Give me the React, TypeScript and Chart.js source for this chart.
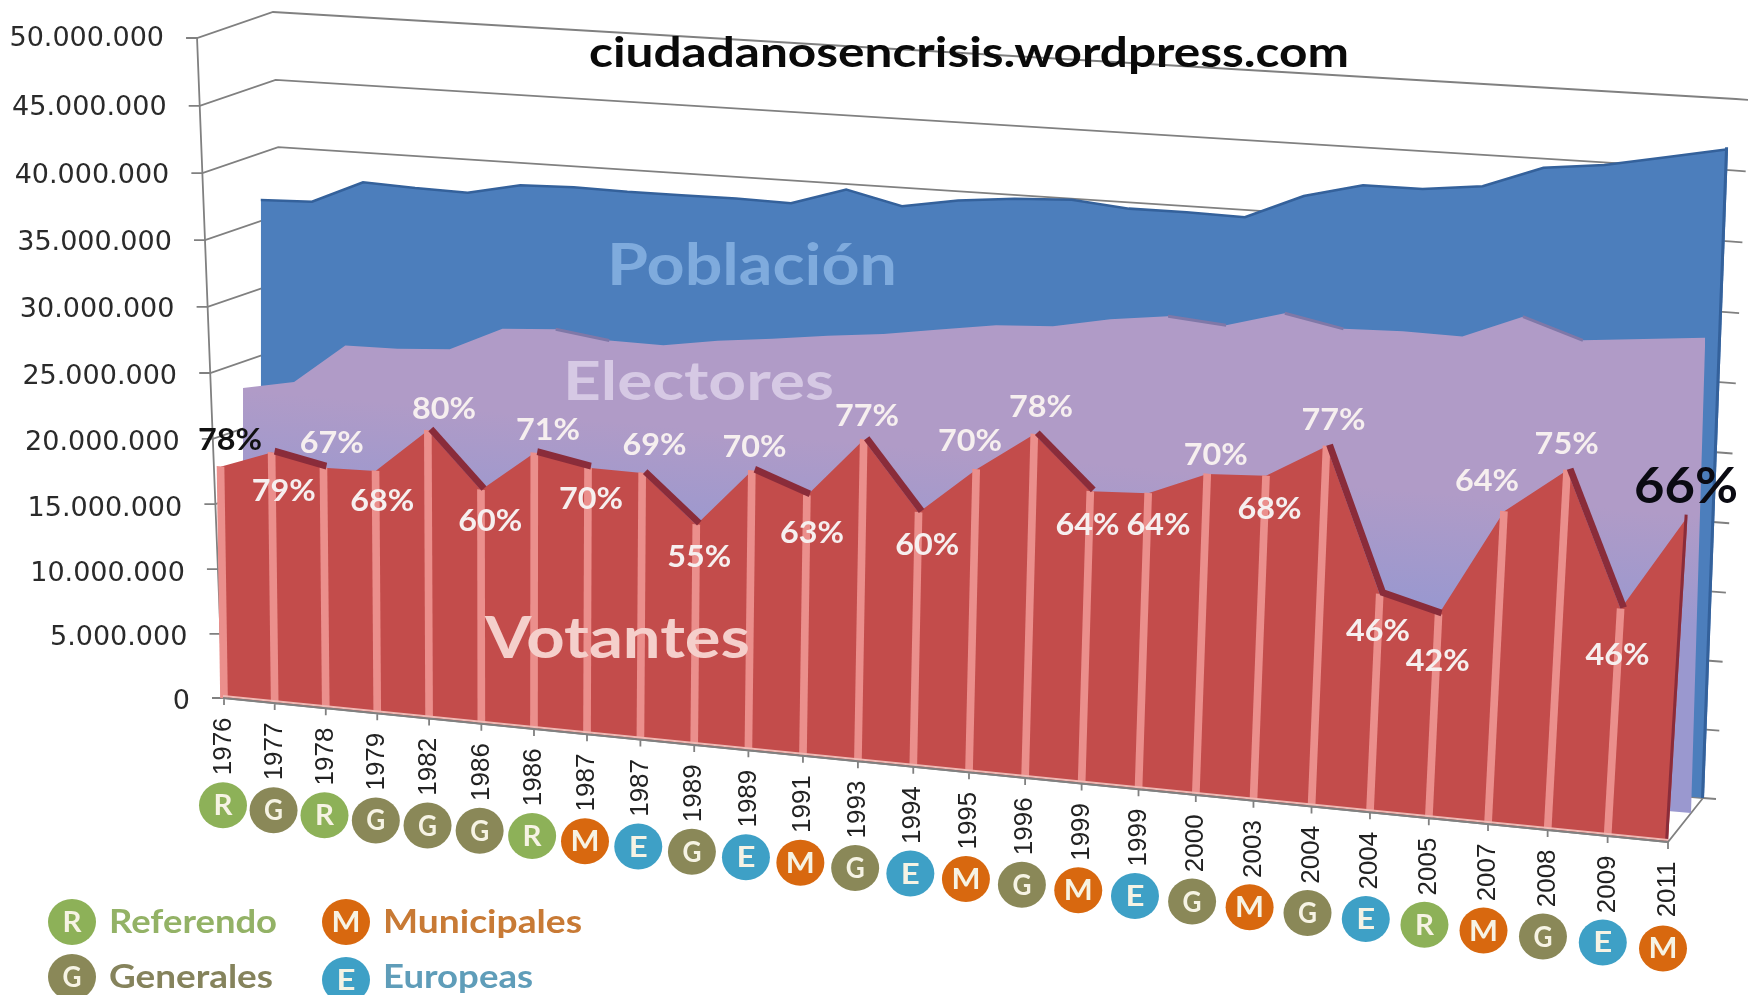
import React, { useEffect, useRef } from "react";
import { Chart, CategoryScale, registerables } from "chart.js";

const anios = ["1976","1977","1978","1979","1982","1986","1986","1987","1987","1989","1989","1991","1993","1994","1995","1996","1999","1999","2000","2003","2004","2004","2005","2007","2008","2009","2011"];
const tipos = ["R","G","R","G","G","G","R","M","E","G","E","M","G","E","M","G","M","E","G","M","G","E","R","M","G","E","M"];
const porcentajes = [78,79,67,68,80,60,71,70,69,55,70,63,77,60,70,78,64,64,70,68,77,46,42,64,75,46,66];
const votantes = [17.5,18.95,18.2,18.35,21.8,17.7,20.9,20.2,20.2,16.7,21.2,19.75,24.4,19.3,23.0,26.1,22.2,22.5,24.4,24.7,27.4,16.6,15.5,23.8,27.4,17.3,24.8].map((v) => v * 1e6);
const electores = [22.7,23.5,26.6,26.7,27.0,28.9,29.2,28.7,28.7,29.4,29.9,30.5,31.0,31.7,32.4,32.7,33.6,34.2,33.9,35.2,34.4,34.6,34.6,36.5,35.1,35.6,36.1].map((v) => v * 1e6);
const poblacion = [35.9,36.1,37.9,37.8,37.8,38.7,38.9,38.9,39.0,39.1,39.1,40.5,39.6,40.4,40.9,41.2,40.9,41.0,41.0,43.0,44.2,44.3,44.9,46.7,47.3,48.3,49.3].map((v) => v * 1e6);
// where each percentage sits relative to its Votantes point
const pctDx = [6,9,6,5,15,9,14,4,14,5,6,9,9,14,1,16,6,20,20,16,22,8,9,-1,19,10,18];
const pctDy = [-28,37,-26,29,-23,30,-24,30,-29,32,-24,37,-24,32,-29,-27,34,32,-19,33,-26,37,46,-30,-25,46,-30];

const L = 224, R = 1668, B = 698, T = 38;
const WARP = 0.0907;
// each depth layer: where its floor line runs on screen, how verticals lean from left (l0) to right (l1)
const layers: any = {
  back: { xs: 275, ys: 675, xe: 1704, ye: 798, l0: -0.03, l1: 0.037 },
  mid: { xs: 246, ys: 688, xe: 1691, ye: 813, l0: -0.01, l1: 0.03 },
  front: { xs: 224, ys: 698, xe: 1668, ye: 842, l0: -0.015, l1: 0.06 },
  ridge: { xs: 224, ys: 698, xe: 1668, ye: 842, l0: -0.015, l1: 0.06, dx: 3, dy: -1.5 },
};
const FRONT_K = (842 - 698) / (R - L);
const badgeColors: any = { R: "#8DB158", G: "#8A8858", M: "#D8680F", E: "#3EA0C6" };
const FONT = "Lato, 'Open Sans', sans-serif";
const leanAt = (l: any, t: number) => l.l0 + (l.l1 - l.l0) * t;
// the value axis bows slightly in the perspective of the drawing
const axisBow = (f: number, amount: number) => 4 * f * (1 - f) * amount;

class PerspectiveScale extends CategoryScale {
  static id = "perspective";
  static defaults = {};
  getPixelForValue(value: any) {
    const p = super.getPixelForValue(value);
    const span = this.right - this.left;
    const t = (p - this.left) / span;
    return this.left + span * ((1 - WARP) * t + WARP * t * t);
  }
}

let savedArea: any = null;

const layerPlugin = {
  id: "layerTransform",
  afterDatasetsUpdate(chart: any) {
    chart.data.datasets.forEach((ds: any, index: number) => {
      const l = layers[ds.layer];
      const sx = (l.xe - l.xs) / (R - L);
      const meta = chart.getDatasetMeta(index);
      meta.data.forEach((el: any) => {
        const t = (el.x - L) / (R - L);
        const lean = leanAt(l, t) / sx;
        if (ds.type === "bar") {
          const draw = el.draw;
          el.draw = function (ctx: any, area: any) {
            ctx.save();
            ctx.transform(1, 0, -lean, 1, lean * B, 0);
            draw.call(el, ctx, area);
            ctx.restore();
          };
        } else {
          el.x += lean * (B - el.y);
        }
      });
    });
  },
  beforeDatasetDraw(chart: any, args: any) {
    const l = layers[chart.data.datasets[args.index].layer];
    const ctx = chart.ctx;
    // the layer's own clip replaces the chart-area rectangle while it is drawn
    savedArea = chart.chartArea;
    chart.chartArea = { left: -400, right: 2400, top: -400, bottom: 1600, width: 2800, height: 2000 };
    ctx.save();
    const topX = l.xe + l.l1 * (l.ye + 100);
    const botX = l.xe + l.l1 * (l.ye - 1100);
    ctx.beginPath();
    ctx.moveTo(-100, -100);
    ctx.lineTo(topX, -100);
    ctx.lineTo(botX, 1100);
    ctx.lineTo(-100, 1100);
    ctx.closePath();
    ctx.clip();
    const sx = (l.xe - l.xs) / (R - L);
    const k = (l.ye - l.ys) / (R - L);
    ctx.transform(sx, k, 0, 1, l.xs - L * sx + (l.dx || 0), l.ys - L * k - B + (l.dy || 0));
  },
  afterDatasetDraw(chart: any) {
    chart.ctx.restore();
    chart.chartArea = savedArea;
  },
};

Chart.register(layerPlugin, PerspectiveScale, ...registerables);

function fitText(ctx: any, text: string, x: number, y: number, width: number, font: string, color: string, align = "center") {
  ctx.save();
  ctx.font = font;
  ctx.fillStyle = color;
  ctx.textBaseline = "alphabetic";
  ctx.textAlign = "left";
  const w = ctx.measureText(text).width;
  const s = width / w;
  const left = align === "center" ? x - width / 2 : x;
  ctx.translate(left, y);
  ctx.scale(s, 1);
  ctx.fillText(text, 0, 0);
  ctx.restore();
}

function badge(ctx: any, tipo: string, x: number, y: number) {
  ctx.save();
  ctx.fillStyle = badgeColors[tipo];
  ctx.beginPath();
  ctx.ellipse(x, y, 24, 23, 0, 0, Math.PI * 2);
  ctx.fill();
  ctx.restore();
  fitText(ctx, tipo, x, y + 10, tipo === "M" ? 29 : 19, `bold 28px ${FONT}`, "#F6F3E4");
}

const frontWallX = (py: number) => 197 + ((py - 37) / (698 - 37)) * 26;

const artPlugin = {
  id: "chartArt",
  afterUpdate(chart: any) {
    const xs = chart.scales.x;
    for (const item of xs.getLabelItems(chart.chartArea)) {
      const t = item.options.translation;
      t[1] += FRONT_K * (t[0] - L);
    }
    const ys = chart.scales.y;
    for (const item of ys.getLabelItems(chart.chartArea)) {
      const t = item.options.translation;
      const f = (t[1] - T) / (B - T);
      t[0] = frontWallX(t[1]) - 33;
      t[1] += 1 + f * 3 + axisBow(f, 6.5);
    }
  },
  beforeDatasetsDraw(chart: any) {
    const ctx = chart.ctx;
    const ys = chart.scales.y;
    ctx.save();
    ctx.strokeStyle = "#808080";
    ctx.lineWidth = 1.8;
    for (const tick of ys.ticks) {
      const p0 = ys.getPixelForValue(tick.value);
      const f = (p0 - T) / (B - T);
      const bow = axisBow(f, 5);
      const py = p0 + bow;
      const fx = frontWallX(py);
      const bx = 273 + f * 26;
      const by = py - 26;
      const rx = 1736 - f * 33;
      const ry = 99 + f * 699 + axisBow(f, 4);
      ctx.beginPath();
      ctx.moveTo(fx - 11, py);
      ctx.lineTo(fx, py);
      ctx.lineTo(bx, by);
      ctx.lineTo(rx, ry);
      ctx.lineTo(rx + 13, ry + 1);
      ctx.stroke();
    }
    ctx.beginPath();
    ctx.moveTo(197, 37);
    ctx.lineTo(223, 698);
    ctx.lineTo(1668, 842);
    ctx.lineTo(1703, 798);
    ctx.stroke();
    ctx.restore();
  },
  afterDatasetsDraw(chart: any) {
    const ctx = chart.ctx;
    const xs = chart.scales.x;
    const ys = chart.scales.y;
    // dark right-hand edge of each layer, from its last data element down to its floor
    const edges: any[] = [["back", 0, "#34619B"], ["front", 4, "#8A2C3A"]];
    edges.forEach(([name, index, color]) => {
      const l = layers[name];
      const el = chart.getDatasetMeta(index).data[anios.length - 1];
      const h = B - el.y;
      ctx.save();
      ctx.strokeStyle = color;
      ctx.lineWidth = 3;
      ctx.beginPath();
      ctx.moveTo(l.xe + l.l1 * h - 1.5, l.ye - h);
      ctx.lineTo(l.xe - 1.5, l.ye);
      ctx.stroke();
      ctx.restore();
    });
    // x axis: base line and tick marks
    ctx.save();
    ctx.strokeStyle = "#F0B9B4";
    ctx.lineWidth = 2;
    ctx.beginPath();
    ctx.moveTo(223, 696);
    ctx.lineTo(1668, 840);
    ctx.stroke();
    ctx.strokeStyle = "#808080";
    ctx.lineWidth = 1.8;
    ctx.beginPath();
    ctx.moveTo(223, 698);
    ctx.lineTo(1668, 842);
    anios.forEach((_, i) => {
      const px = xs.getPixelForTick(i);
      const py = B + FRONT_K * (px - L);
      ctx.moveTo(px, py);
      ctx.lineTo(px, py + 7);
    });
    ctx.stroke();
    ctx.restore();
    // layer names and title
    fitText(ctx, "Población", 607, 285, 290, `bold 58px ${FONT}`, "#7FABDD", "left");
    fitText(ctx, "Electores", 563, 400, 271, `bold 54px ${FONT}`, "#D6C9E4", "left");
    fitText(ctx, "Votantes", 485, 658, 265, `bold 58px ${FONT}`, "#F5CFCB", "left");
    fitText(ctx, "ciudadanosencrisis.wordpress.com", 589, 67, 760, `bold 42px ${FONT}`, "#0a0a0a", "left");
    // percentages
    porcentajes.forEach((p, i) => {
      const px = xs.getPixelForTick(i);
      const py = ys.getPixelForValue(votantes[i]) + FRONT_K * (px - L);
      const x = px + pctDx[i];
      const y = py + pctDy[i];
      const first = i === 0;
      const last = i === porcentajes.length - 1;
      if (last) {
        fitText(ctx, `${p}%`, x, y + 18, 104, `bold 50px ${FONT}`, "#0a0a12");
      } else {
        fitText(ctx, `${p}%`, x, y + 11, 64, `bold 31px ${FONT}`, first ? "#111111" : "#F6EFEF");
      }
    });
  },
  afterDraw(chart: any) {
    const ctx = chart.ctx;
    const xs = chart.scales.x;
    tipos.forEach((tipo, i) => {
      const px = xs.getPixelForTick(i);
      badge(ctx, tipo, px - 1 - ((px - L) / (R - L)) * 4, 805 + (px - 222) * 0.0992);
    });
    badge(ctx, "R", 72, 922);
    badge(ctx, "M", 346, 922);
    badge(ctx, "G", 72, 977);
    badge(ctx, "E", 346, 980);
    fitText(ctx, "Referendo", 109, 933, 168, `bold 33px ${FONT}`, "#93B266", "left");
    fitText(ctx, "Municipales", 383, 933, 199, `bold 33px ${FONT}`, "#C87A35", "left");
    fitText(ctx, "Generales", 109, 988, 164, `bold 33px ${FONT}`, "#85835C", "left");
    fitText(ctx, "Europeas", 383, 988, 150, `bold 33px ${FONT}`, "#5F9DB9", "left");
  },
};

const drop = (color: string) => (c: any) => (c.p0.parsed.y > c.p1.parsed.y ? color : "transparent");

export default function App() {
  const ref = useRef<HTMLCanvasElement>(null);
  useEffect(() => {
    const canvas = ref.current as HTMLCanvasElement;
    const purple = (canvas.getContext("2d") as CanvasRenderingContext2D).createLinearGradient(0, 400, 0, 510);
    purple.addColorStop(0, "#B09BC7");
    purple.addColorStop(1, "#9A98CF");
    const chart = new Chart(canvas as any, {
      type: "line",
      data: {
        labels: anios,
        datasets: [
          { label: "Población", data: poblacion, layer: "back", order: 6, fill: "origin", backgroundColor: "#4C7EBC", borderColor: "#4C7EBC", borderWidth: 0, pointRadius: 0, tension: 0, clip: false },
          { label: "Población borde", data: poblacion, layer: "back", order: 5, fill: false, borderWidth: 2.5, pointRadius: 0, borderColor: "#34619B", clip: false },
          { label: "Electores", data: electores, layer: "mid", order: 4, fill: "origin", backgroundColor: purple, borderColor: "#B09BC7", borderWidth: 0, pointRadius: 0, tension: 0, clip: false },
          { label: "Electores borde", data: electores, layer: "mid", order: 3, fill: false, borderWidth: 3, pointRadius: 0, borderColor: "#7F78A8", clip: false, segment: { borderColor: drop("#7F78A8") } },
          { label: "Votantes", data: votantes, layer: "front", order: 2, fill: "origin", backgroundColor: "#C34C4B", borderColor: "#C34C4B", borderWidth: 0, pointRadius: 0, tension: 0, clip: false },
          { label: "Votantes marcas", type: "bar", data: votantes, layer: "front", order: 1, backgroundColor: (c: any) => (c.dataIndex === anios.length - 1 ? "transparent" : "#EB8F8C"), barThickness: 7, clip: false },
          { label: "Votantes borde", data: votantes, layer: "ridge", order: 0, fill: false, borderWidth: 7, pointRadius: 0, borderColor: "#8A2C3A", clip: false, segment: { borderColor: drop("#8A2C3A") } },
        ] as any,
      },
      options: {
        responsive: false,
        animation: false,
        events: [],
        layout: { autoPadding: false, padding: { top: T, right: 1748 - R, left: 0, bottom: 0 } },
        plugins: { legend: { display: false }, tooltip: { enabled: false } },
        scales: {
          x: {
            type: "perspective",
            offset: false,
            grid: { display: false },
            border: { display: false },
            ticks: { autoSkip: false, minRotation: 90, maxRotation: 90, padding: 13, color: "#222222", font: { family: "'Liberation Sans', sans-serif", size: 26 } },
            afterFit(s: any) { s.height = 995 - B; },
          },
          y: {
            min: 0,
            max: 50000000,
            grid: { display: false },
            border: { display: false },
            ticks: {
              stepSize: 5000000,
              color: "#2a2a2a",
              font: { family: "'DejaVu Sans', sans-serif", size: 27 },
              callback: (v: any) => String(v).replace(/\B(?=(\d{3})+$)/g, "."),
            },
            afterFit(s: any) { s.width = L; },
          },
        },
      } as any,
      plugins: [artPlugin],
    });
    return () => chart.destroy();
  }, []);
  return <canvas ref={ref} width={1748} height={995} style={{ position: "absolute", left: 0, top: 0, display: "block", background: "#fff" }} />;
}
